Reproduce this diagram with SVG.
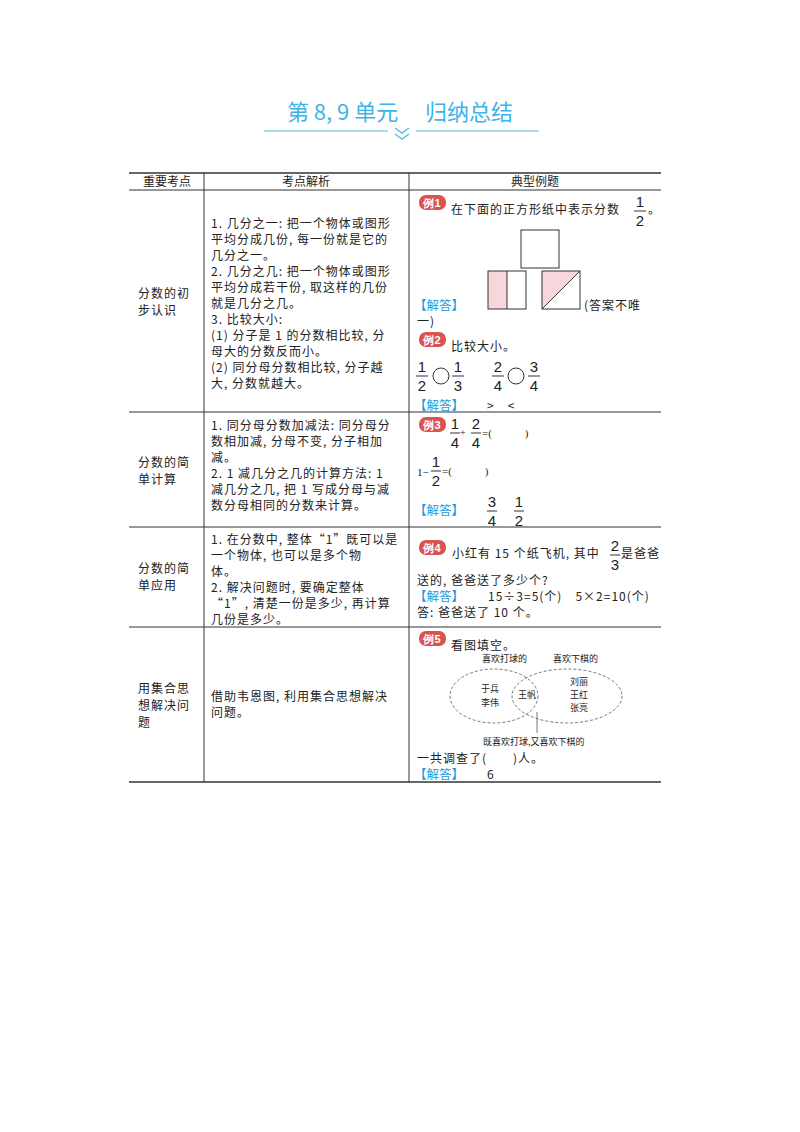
<svg xmlns="http://www.w3.org/2000/svg" width="800" height="1132" viewBox="0 0 800 1132">
<style>
text{font-family:"Liberation Serif","Noto Sans CJK SC",serif;font-size:12.5px;fill:#222}
.c{font-family:"Noto Sans CJK SC",sans-serif;font-size:12px;letter-spacing:1px}
.h{font-family:"Noto Sans CJK SC",sans-serif;font-size:12px}
.ans{fill:#1a9be0;font-family:"Noto Sans CJK SC",sans-serif;font-size:12.5px}
.b{fill:#d9534f}
.bt{fill:#fff;font-family:"Liberation Sans",sans-serif;font-weight:bold;font-size:11px}
.l{stroke:#333;stroke-width:1;fill:none}
.f{font-size:15px;font-family:"Liberation Sans",sans-serif}
.s{font-size:9px;font-family:"Noto Sans CJK SC",sans-serif}
</style>
<g id="title">
<text x="400" y="120" text-anchor="middle" style="font-size:22px;fill:#3cb4e8;font-family:'Noto Sans CJK SC',sans-serif">第 8, 9 单元　 归纳总结</text>
<line x1="264" y1="131" x2="388" y2="131" stroke="#5bbfd6" stroke-width="1.2"/>
<line x1="416" y1="131" x2="539" y2="131" stroke="#5bbfd6" stroke-width="1.2"/>
<path d="M395 128 l7 5 7-5 M395 134 l7 5 7-5" stroke="#5bbfd6" stroke-width="1.5" fill="none"/>
</g>
<g id="table">
<line x1="129" y1="173" x2="661" y2="173" stroke="#333" stroke-width="1.5"/>
<line x1="129" y1="190" x2="661" y2="190" class="l"/>
<line x1="129" y1="412" x2="661" y2="412" class="l"/>
<line x1="129" y1="527" x2="661" y2="527" class="l"/>
<line x1="129" y1="627" x2="661" y2="627" class="l"/>
<line x1="129" y1="782" x2="661" y2="782" stroke="#333" stroke-width="1.5"/>
<line x1="204" y1="173" x2="204" y2="782" class="l"/>
<line x1="409" y1="173" x2="409" y2="782" class="l"/>
<text x="167" y="186" text-anchor="middle" class="h">重要考点</text>
<text x="306" y="186" text-anchor="middle" class="h">考点解析</text>
<text x="535" y="186" text-anchor="middle" class="h">典型例题</text>
</g>
<g id="row1">
<text x="138" y="298" class="c">分数的初</text>
<text x="138" y="315" class="c">步认识</text>
<text x="211" y="228" class="c">1. 几分之一: 把一个物体或图形</text>
<text x="211" y="244" class="c">平均分成几份, 每一份就是它的</text>
<text x="211" y="260" class="c">几分之一。</text>
<text x="211" y="276" class="c">2. 几分之几: 把一个物体或图形</text>
<text x="211" y="292" class="c">平均分成若干份, 取这样的几份</text>
<text x="211" y="308" class="c">就是几分之几。</text>
<text x="211" y="324" class="c">3. 比较大小:</text>
<text x="211" y="340" class="c">(1) 分子是 1 的分数相比较, 分</text>
<text x="211" y="356" class="c">母大的分数反而小。</text>
<text x="211" y="372" class="c">(2) 同分母分数相比较, 分子越</text>
<text x="211" y="388" class="c">大, 分数就越大。</text>
<rect x="419" y="195" width="27" height="15" rx="7" class="b"/><text x="432" y="207" text-anchor="middle" class="bt">例1</text>
<text x="451" y="214" class="c">在下面的正方形纸中表示分数</text>
<text x="640" y="207" text-anchor="middle" class="f">1</text><line x1="634" y1="211" x2="646" y2="211" class="l"/><text x="640" y="226" text-anchor="middle" class="f">2</text>
<text x="648" y="214" class="c">。</text>
<rect x="521" y="230" width="38" height="38" class="l"/>
<rect x="488" y="271" width="19" height="38" fill="#f8d7dc"/>
<rect x="488" y="271" width="38" height="38" class="l"/><line x1="507" y1="271" x2="507" y2="309" class="l"/>
<path d="M542 271 H580 L542 309 Z" fill="#f8d7dc"/>
<rect x="542" y="271" width="38" height="38" class="l"/><line x1="580" y1="271" x2="542" y2="309" class="l"/>
<text x="414" y="310" class="ans">【解答】</text>
<text x="584" y="310" class="c">(答案不唯</text>
<text x="417" y="326" class="c">一)</text>
<rect x="419" y="332" width="27" height="15" rx="7" class="b"/><text x="432" y="344" text-anchor="middle" class="bt">例2</text>
<text x="451" y="351" class="c">比较大小。</text>
<text x="422" y="372" text-anchor="middle" class="f">1</text><line x1="416" y1="376" x2="428" y2="376" class="l"/><text x="422" y="391" text-anchor="middle" class="f">2</text>
<circle cx="441" cy="376" r="8" class="l" stroke-width="1.3"/>
<text x="458" y="372" text-anchor="middle" class="f">1</text><line x1="452" y1="376" x2="464" y2="376" class="l"/><text x="458" y="391" text-anchor="middle" class="f">3</text>
<text x="498" y="372" text-anchor="middle" class="f">2</text><line x1="492" y1="376" x2="504" y2="376" class="l"/><text x="498" y="391" text-anchor="middle" class="f">4</text>
<circle cx="516" cy="376" r="8" class="l" stroke-width="1.3"/>
<text x="534" y="372" text-anchor="middle" class="f">3</text><line x1="528" y1="376" x2="540" y2="376" class="l"/><text x="534" y="391" text-anchor="middle" class="f">4</text>
<text x="414" y="410" class="ans">【解答】</text>
<text x="487" y="410" class="c">&gt;　&lt;</text>
</g>
<g id="row2">
<text x="138" y="467" class="c">分数的简</text>
<text x="138" y="484" class="c">单计算</text>
<text x="211" y="430" class="c">1. 同分母分数加减法: 同分母分</text>
<text x="211" y="446" class="c">数相加减, 分母不变, 分子相加</text>
<text x="211" y="462" class="c">减。</text>
<text x="211" y="478" class="c">2. 1 减几分之几的计算方法: 1</text>
<text x="211" y="494" class="c">减几分之几, 把 1 写成分母与减</text>
<text x="211" y="510" class="c">数分母相同的分数来计算。</text>
<rect x="419" y="417" width="27" height="15" rx="7" class="b"/><text x="432" y="429" text-anchor="middle" class="bt">例3</text>
<text x="455" y="429" text-anchor="middle" class="f">1</text><line x1="450" y1="433" x2="460" y2="433" class="l"/><text x="455" y="448" text-anchor="middle" class="f">4</text>
<text x="460" y="436" style="font-size:10px">+</text>
<text x="476" y="429" text-anchor="middle" class="f">2</text><line x1="471" y1="433" x2="481" y2="433" class="l"/><text x="476" y="448" text-anchor="middle" class="f">4</text>
<text x="482" y="437" style="font-size:11px">=(　　　)</text>
<text x="417" y="476" style="font-size:11px">1−</text>
<text x="436" y="467" text-anchor="middle" class="f">1</text><line x1="431" y1="471" x2="441" y2="471" class="l"/><text x="436" y="486" text-anchor="middle" class="f">2</text>
<text x="442" y="475" style="font-size:11px">=(　　　)</text>
<text x="414" y="515" class="ans">【解答】</text>
<text x="492" y="507" text-anchor="middle" class="f">3</text><line x1="487" y1="511" x2="497" y2="511" class="l"/><text x="492" y="526" text-anchor="middle" class="f">4</text>
<text x="519" y="507" text-anchor="middle" class="f">1</text><line x1="514" y1="511" x2="524" y2="511" class="l"/><text x="519" y="526" text-anchor="middle" class="f">2</text>
</g>
<g id="row3">
<text x="138" y="573" class="c">分数的简</text>
<text x="138" y="590" class="c">单应用</text>
<text x="211" y="544" class="c">1. 在分数中, 整体“1”既可以是</text>
<text x="211" y="560" class="c">一个物体, 也可以是多个物</text>
<text x="211" y="576" class="c">体。</text>
<text x="211" y="592" class="c">2. 解决问题时, 要确定整体</text>
<text x="211" y="608" class="c">“1”, 清楚一份是多少, 再计算</text>
<text x="211" y="624" class="c">几份是多少。</text>
<rect x="419" y="540" width="27" height="15" rx="7" class="b"/><text x="432" y="552" text-anchor="middle" class="bt">例4</text>
<text x="452" y="558" class="c">小红有 15 个纸飞机, 其中</text>
<text x="615" y="551" text-anchor="middle" class="f">2</text><line x1="610" y1="555" x2="620" y2="555" class="l"/><text x="615" y="570" text-anchor="middle" class="f">3</text>
<text x="621" y="558" class="c">是爸爸</text>
<text x="417" y="585" class="c">送的, 爸爸送了多少个?</text>
<text x="414" y="601" class="ans">【解答】</text>
<text x="488" y="601" class="c">15÷3=5(个)　5×2=10(个)</text>
<text x="417" y="617" class="c">答: 爸爸送了 10 个。</text>
</g>
<g id="row4">
<text x="138" y="693" class="c">用集合思</text>
<text x="138" y="710" class="c">想解决问</text>
<text x="138" y="727" class="c">题</text>
<text x="211" y="701" class="c">借助韦恩图, 利用集合思想解决</text>
<text x="211" y="717" class="c">问题。</text>
<rect x="419" y="631" width="27" height="15" rx="7" class="b"/><text x="432" y="643" text-anchor="middle" class="bt">例5</text>
<text x="451" y="650" class="c">看图填空。</text>
<text x="482" y="662" class="s">喜欢打球的</text>
<text x="553" y="662" class="s">喜欢下棋的</text>
<ellipse cx="494" cy="696" rx="44" ry="27" stroke="#555" stroke-dasharray="3,2" fill="none" stroke-width="0.8"/>
<ellipse cx="567" cy="696" rx="55" ry="27" stroke="#555" stroke-dasharray="3,2" fill="none" stroke-width="0.8"/>
<text x="481" y="692" class="s">于兵</text>
<text x="481" y="706" class="s">李伟</text>
<text x="527" y="698" class="s" text-anchor="middle">王帆</text>
<text x="570" y="685" class="s">刘丽</text>
<text x="570" y="698" class="s">王红</text>
<text x="570" y="711" class="s">张亮</text>
<line x1="537" y1="712" x2="537" y2="733" stroke="#555" stroke-width="0.8"/>
<text x="483" y="745" class="s">既喜欢打球,又喜欢下棋的</text>
<text x="417" y="763" class="c">一共调查了(　　)人。</text>
<text x="414" y="779" class="ans">【解答】</text>
<text x="487" y="779" class="c">6</text>
</g>
</svg>
